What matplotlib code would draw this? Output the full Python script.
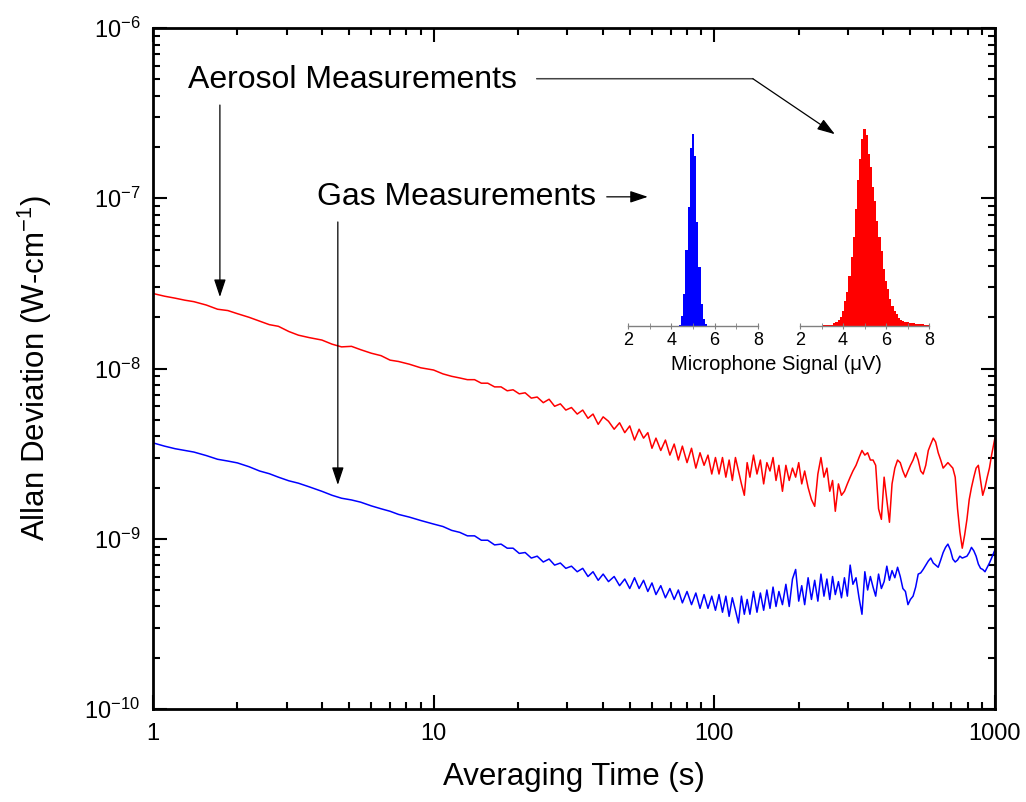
import matplotlib
matplotlib.use("Agg")
import numpy as np
import matplotlib.pyplot as plt
from matplotlib.ticker import LogLocator, NullFormatter, LogFormatterMathtext

plt.rcParams['font.family'] = ['Liberation Sans', 'DejaVu Sans']
plt.rcParams['mathtext.fontset'] = 'custom'
plt.rcParams['mathtext.rm'] = 'Liberation Sans'
plt.rcParams['mathtext.it'] = 'Liberation Sans:italic'
plt.rcParams['mathtext.bf'] = 'Liberation Sans:bold'

# averaging time (s)
tau = [1, 1.1, 1.2, 1.3, 1.4, 1.55, 1.7, 1.85, 2, 2.2,
       2.4, 2.6, 2.8, 3.05, 3.3, 3.6, 4, 4.35, 4.7, 5.1,
       5.5, 6, 6.5, 7, 7.5, 8.2, 9, 10, 10.8, 11.6,
       12.4, 13.2, 14, 14.8, 15.6, 16.5, 17.4, 18.3, 19.2, 20.2,
       21.2, 22.3, 23.4, 24.6, 25.8, 27, 28.3, 29.6, 31, 32.5,
       34, 35.5, 37, 38.6, 40.2, 42, 44, 46, 48, 50,
       52, 54, 56, 58, 60, 62, 64.5, 67, 69.5, 72,
       74.5, 77, 80, 83, 86, 89, 92, 95, 98, 101,
       104, 107, 110, 113, 116, 119, 122, 125, 128, 131,
       134, 138, 142, 146, 150, 154, 158, 162, 166, 170,
       175, 180, 185, 190, 195, 200, 205, 210, 216, 222,
       228, 234, 240, 246, 252, 258, 264, 270, 277, 284,
       291, 298, 305, 312, 320, 328, 336, 344, 352, 360,
       368, 376, 385, 394, 403, 412, 421, 430, 440, 450,
       460, 470, 480, 490, 500, 511, 522, 533, 544, 555,
       567, 579, 591, 603, 615, 628, 641, 654, 667, 680,
       694, 708, 722, 736, 750, 765, 780, 795, 810, 825,
       841, 857, 873, 889, 905, 922, 939, 956, 973, 1000]

# aerosol Allan deviation, units of 1e-9 W/cm
aerosol = [27.6, 26.6, 25.9, 25.2, 24.7, 23.6, 22.3, 21.9, 21.0, 20.0,
           19.0, 18.1, 17.7, 16.5, 15.7, 15.2, 14.7, 13.9, 13.4, 13.5,
           12.9, 12.3, 11.9, 11.2, 11.0, 10.6, 10.1, 9.8, 9.3, 9.0,
           8.8, 8.6, 8.6, 8.2, 8.2, 7.8, 7.8, 7.4, 7.5, 7.1,
           7.2, 6.7, 6.8, 6.3, 6.6, 6.0, 6.2, 5.7, 5.9, 5.4,
           5.7, 5.1, 5.4, 4.7, 5.2, 4.9, 4.4, 4.8, 4.2, 4.6,
           3.8, 4.4, 3.9, 4.2, 3.4, 3.9, 3.3, 3.8, 3.1, 3.6,
           2.9, 3.5, 2.8, 3.4, 2.6, 3.2, 2.7, 3.1, 2.4, 3.0,
           2.4, 3.0, 2.3, 2.9, 2.2, 3.0, 2.5, 2.1, 1.8, 2.8,
           2.3, 3.1, 2.4, 2.9, 2.1, 2.8, 2.5, 3.0, 2.2, 2.7,
           1.9, 2.7, 2.2, 2.6, 2.3, 2.8, 2.1, 2.5, 2.0, 1.7,
           1.55, 2.4, 3.0, 2.3, 2.6, 1.9, 2.2, 1.45, 2.1, 1.8,
           1.9, 2.1, 2.3, 2.5, 2.7, 3.0, 3.3, 3.1, 3.2, 2.9,
           2.9, 2.7, 1.5, 1.3, 2.3, 1.7, 1.25, 2.1, 2.6, 2.9,
           2.8, 2.5, 2.3, 2.5, 2.7, 2.9, 3.2, 2.9, 2.5, 2.4,
           2.7, 3.3, 3.6, 3.9, 3.7, 3.2, 2.9, 2.6, 2.7, 2.8,
           2.7, 2.6, 2.3, 1.5, 1.1, 0.88, 1.05, 1.3, 1.7, 2.0,
           2.3, 2.6, 2.7, 2.2, 1.8, 2.0, 2.3, 2.6, 3.1, 3.9]

# gas Allan deviation, units of 1e-10 W/cm
gas = [36.6, 35.0, 33.8, 33.0, 32.3, 30.8, 29.3, 28.6, 27.9, 26.5,
       25.0, 24.1, 23.0, 21.9, 21.2, 20.2, 19.0, 18.0, 17.3, 16.9,
       16.4, 15.6, 15.0, 14.5, 13.9, 13.4, 12.8, 12.2, 11.8, 11.2,
       10.9, 10.4, 10.4, 9.8, 9.8, 9.2, 9.3, 8.8, 8.8, 8.2,
       8.3, 7.7, 7.9, 7.3, 7.6, 7.0, 7.2, 6.7, 6.9, 6.4,
       6.7, 6.0, 6.4, 5.7, 6.2, 5.6, 6.0, 5.3, 5.8, 5.1,
       5.9, 5.1, 5.7, 4.9, 5.5, 4.7, 5.3, 4.5, 5.1, 4.4,
       5.0, 4.2, 4.9, 4.1, 4.8, 3.9, 4.7, 3.9, 4.6, 3.8,
       4.7, 3.7, 4.6, 3.5, 4.5, 3.8, 3.2, 4.6, 3.6, 4.4,
       3.6, 4.9, 3.7, 4.8, 3.8, 5.0, 3.9, 5.2, 4.0, 4.9,
       4.1, 5.4, 4.0, 5.8, 6.6, 4.3, 5.3, 4.1, 5.9, 4.4,
       5.7, 4.3, 6.2, 4.6, 5.8, 4.4, 6.0, 4.7, 5.6, 4.5,
       5.9, 4.6, 7.0, 5.4, 5.9, 4.5, 3.6, 6.4, 5.0, 6.0,
       5.2, 4.6, 6.2, 5.1, 5.6, 6.9, 5.7, 6.5, 5.9, 6.8,
       6.0, 5.1, 4.9, 4.1, 4.4, 4.6, 5.2, 6.2, 6.3, 6.6,
       7.0, 7.4, 7.7, 7.2, 7.0, 6.8, 7.5, 8.3, 8.9, 9.3,
       8.6, 7.6, 7.3, 7.5, 7.9, 7.7, 7.8, 7.9, 8.3, 8.9,
       8.5, 7.9, 7.1, 6.7, 6.6, 6.4, 6.8, 7.2, 7.7, 8.6]

# microphone signal histograms (bin centres in uV, counts)
gas_bins = [4.4, 4.5, 4.6, 4.7, 4.8, 4.9, 5.0, 5.1, 5.2, 5.3, 5.4, 5.5, 5.6]
gas_counts = [2, 30, 95, 227, 357, 533, 573, 507, 312, 175, 65, 20, 5]

aer_bins = [3.0, 3.1, 3.2, 3.3, 3.4, 3.5, 3.6, 3.7, 3.8, 3.9,
            4.0, 4.1, 4.2, 4.3, 4.4, 4.5, 4.6, 4.7, 4.8, 4.9,
            5.0, 5.1, 5.2, 5.3, 5.4, 5.5, 5.6, 5.7, 5.8, 5.9,
            6.0, 6.1, 6.2, 6.3, 6.4, 6.5, 6.6, 6.7, 6.8, 6.9,
            7.0, 7.1, 7.2, 7.3, 7.4, 7.5, 7.6, 7.7, 7.8, 7.9,
            8.0, 8.1]
aer_counts = [0, 1, 1, 2, 2, 3, 8, 12, 17, 25,
              45, 75, 100, 150, 205, 265, 350, 435, 500, 560,
              588, 570, 515, 475, 415, 375, 315, 265, 225, 170,
              135, 110, 80, 60, 45, 35, 22, 18, 14, 12,
              10, 9, 8, 7, 6, 5, 5, 4, 3, 3,
              2, 1]

fig = plt.figure(figsize=(10.26, 8.02), dpi=100)
ax = fig.add_axes([0.149, 0.116, 0.8207, 0.849])

ax.plot(tau, np.array(aerosol) * 1e-9, color='#ff0000', lw=1.1)
ax.plot(tau, np.array(gas) * 1e-10, color='#0000ff', lw=1.1)

ax.set_xscale('log')
ax.set_yscale('log')
ax.set_xlim(1, 1000)
ax.set_ylim(1e-10, 1e-6)
ax.xaxis.set_major_formatter(plt.FuncFormatter(lambda v, p: '%d' % round(v)))
ax.yaxis.set_major_formatter(LogFormatterMathtext())
ax.yaxis.set_minor_locator(LogLocator(base=10, subs=np.arange(2, 10), numticks=20))
ax.xaxis.set_minor_locator(LogLocator(base=10, subs=np.arange(2, 10), numticks=20))
ax.xaxis.set_minor_formatter(NullFormatter())
ax.yaxis.set_minor_formatter(NullFormatter())
ax.tick_params(which='both', direction='in', top=True, right=True, width=1.5,
               labelsize=17)
ax.tick_params(which='major', length=10)
ax.tick_params(which='minor', length=5)
ax.tick_params(axis='x', pad=10)
ax.tick_params(axis='y', pad=9)
for s in ax.spines.values():
    s.set_linewidth(2)

ax.set_xlabel('Averaging Time (s)', fontsize=22.5, labelpad=12)
ax.set_ylabel('Allan Deviation (W-cm$^{-1}$)', fontsize=22.5, labelpad=22)

# annotations
arrow = dict(arrowstyle='-|>,head_length=0.6,head_width=0.2', mutation_scale=18,
             color='black', lw=0.9, shrinkA=0, shrinkB=0)
line = dict(arrowstyle='-', color='#444444', lw=1.1, shrinkA=0, shrinkB=0)

ax.text(1.332, 4.95e-7, 'Aerosol Measurements', fontsize=23, ha='left', va='center')
ax.text(3.84, 1.02e-7, 'Gas Measurements', fontsize=23, ha='left', va='center')

ax.annotate('', xy=(1.733, 2.63e-8), xytext=(1.733, 3.53e-7), arrowprops=arrow)
ax.annotate('', xy=(4.56, 2.07e-9), xytext=(4.56, 7.26e-8), arrowprops=arrow)
ax.annotate('', xy=(137.3, 5.04e-7), xytext=(23.3, 5.04e-7), arrowprops=line)
ax.annotate('', xy=(269, 2.38e-7), xytext=(137.3, 5.04e-7), arrowprops=arrow)
ax.annotate('', xy=(58.0, 1.02e-7), xytext=(41.4, 1.02e-7), arrowprops=arrow)

# inset histograms
def inset(rect, bins, counts, color):
    a = fig.add_axes(rect)
    a.bar(bins, counts, width=0.1, color=color, linewidth=0)
    a.set_xlim(2, 8)
    a.set_ylim(0, 600)
    a.patch.set_visible(False)
    for k in ('left', 'top', 'right'):
        a.spines[k].set_visible(False)
    a.spines['bottom'].set_color('#808080')
    a.spines['bottom'].set_linewidth(1)
    a.set_yticks([])
    a.set_xticks([2, 4, 6, 8])
    a.set_xticks([3, 5, 7], minor=True)
    a.tick_params(which='both', direction='inout', length=5, color='#808080',
                  labelsize=13, pad=2)
    return a

inset([628 / 1026, 1 - 325.5 / 802, 130 / 1026, 200 / 802], gas_bins, gas_counts, '#0000ff')
inset([800 / 1026, 1 - 325.5 / 802, 129 / 1026, 200 / 802], aer_bins, aer_counts, '#ff0000')
fig.text(776 / 1026, 1 - 365 / 802, 'Microphone Signal (\u03bcV)', fontsize=14.5,
         ha='center', va='center')

fig.savefig('out.png', dpi=100)
